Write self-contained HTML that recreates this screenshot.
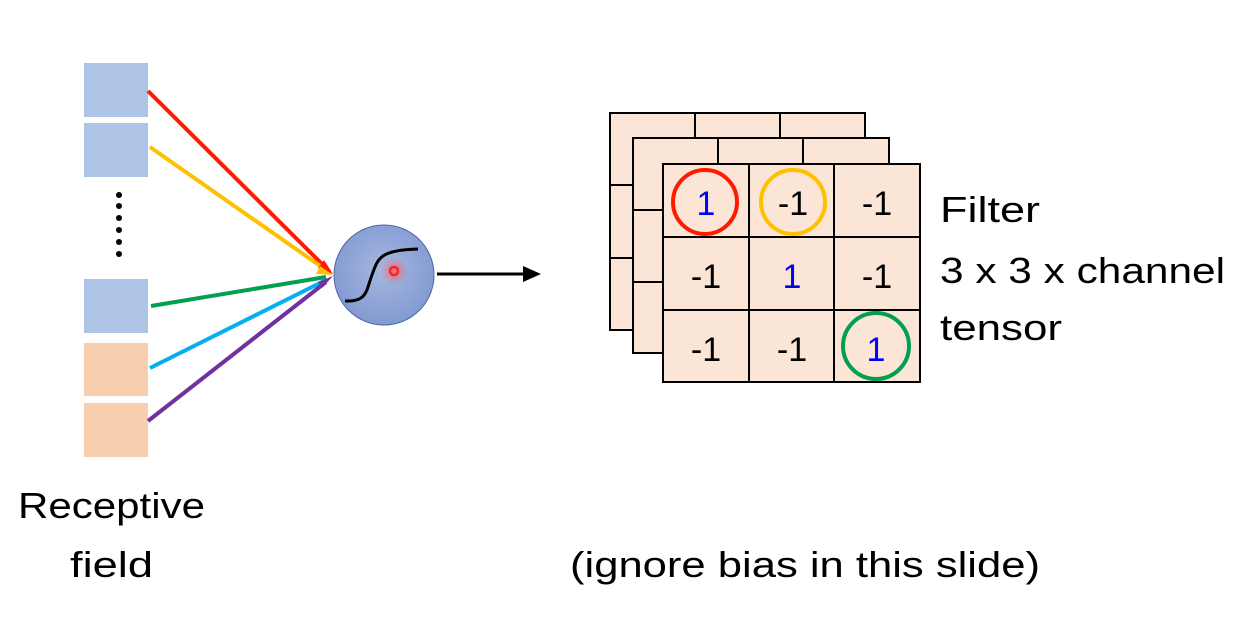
<!DOCTYPE html>
<html><head><meta charset="utf-8"><style>html,body{margin:0;padding:0;background:#fff;}svg{display:block}</style></head>
<body>
<svg width="1239" height="640" viewBox="0 0 1239 640" xmlns="http://www.w3.org/2000/svg" font-family="Liberation Sans, sans-serif">
<defs>
<radialGradient id="g" cx="0.5" cy="0.45" r="0.6"><stop offset="0" stop-color="#a6b8e0"/><stop offset="1" stop-color="#7f97d0"/></radialGradient>
<radialGradient id="glow"><stop offset="0" stop-color="#ff6060" stop-opacity="0.8"/><stop offset="1" stop-color="#ff6060" stop-opacity="0"/></radialGradient>
</defs>
<!-- boxes -->
<rect x="84" y="63" width="64" height="54" fill="#aec4e6"/>
<rect x="84" y="123" width="64" height="54" fill="#aec4e6"/>
<rect x="84" y="279" width="64" height="54" fill="#aec4e6"/>
<rect x="84" y="343" width="64" height="53" fill="#f8cfae"/>
<rect x="84" y="403" width="64" height="54" fill="#f8cfae"/>
<g fill="#000">
<circle cx="119" cy="195" r="3"/><circle cx="119" cy="206" r="3"/><circle cx="119" cy="218" r="3"/><circle cx="119" cy="230" r="3"/><circle cx="119" cy="242" r="3"/><circle cx="119" cy="254" r="3"/>
</g>
<!-- arrows -->
<g stroke-width="4" fill="none">
<line x1="148" y1="91" x2="326" y2="268" stroke="#ff1a00"/>
<line x1="150" y1="147" x2="326" y2="270" stroke="#ffc000"/>
<line x1="151" y1="306" x2="326" y2="277" stroke="#00a050"/>
<line x1="150" y1="368" x2="326" y2="280" stroke="#00b0f0"/>
<line x1="148" y1="421" x2="326" y2="282" stroke="#7030a0"/>
</g>
<polygon points="333,274 318,268 324,260" fill="#ff1a00"/>
<polygon points="333,275 316,274 320,266" fill="#ffc000"/>
<polygon points="333,276 318,282 322,288" fill="#7030a0"/>
<!-- neuron -->
<circle cx="384" cy="275" r="50" fill="url(#g)" stroke="#4a6aa8" stroke-width="1"/>
<circle cx="394" cy="271" r="14" fill="url(#glow)"/>
<circle cx="394" cy="271" r="4" fill="none" stroke="#ff2020" stroke-width="2.5"/>
<path d="M345,301 C368,302 366,290 372,275 C378,258 380,250 418,249" stroke="#000" stroke-width="3" fill="none"/>
<line x1="437" y1="274" x2="525" y2="274" stroke="#000" stroke-width="3"/>
<polygon points="541,274 523,266 523,282" fill="#000"/>
<!-- grids -->
<g stroke="#000" stroke-width="2" fill="#fbe5d6">
<rect x="610" y="113" width="255" height="217"/>
<line x1="695" y1="113" x2="695" y2="138"/><line x1="780" y1="113" x2="780" y2="138"/>
<line x1="610" y1="185" x2="633" y2="185"/><line x1="610" y1="258" x2="633" y2="258"/>
<rect x="633" y="138" width="256" height="215"/>
<line x1="718" y1="138" x2="718" y2="164"/><line x1="803" y1="138" x2="803" y2="164"/>
<line x1="633" y1="210" x2="663" y2="210"/><line x1="633" y1="282" x2="663" y2="282"/>
<rect x="663" y="164" width="257" height="218"/>
<line x1="749" y1="164" x2="749" y2="382"/><line x1="834" y1="164" x2="834" y2="382"/>
<line x1="663" y1="237" x2="920" y2="237"/><line x1="663" y1="310" x2="920" y2="310"/>
</g>
<circle cx="705" cy="202" r="32" fill="none" stroke="#ff1a00" stroke-width="4"/>
<circle cx="793" cy="202" r="32" fill="none" stroke="#ffc000" stroke-width="4"/>
<circle cx="876" cy="346" r="33" fill="none" stroke="#00a050" stroke-width="4"/>
<g font-size="34" text-anchor="middle">
<text x="706" y="215" fill="#0000ff">1</text>
<text x="793" y="215">-1</text>
<text x="877" y="215">-1</text>
<text x="706" y="288">-1</text>
<text x="792" y="288" fill="#0000ff">1</text>
<text x="877" y="288">-1</text>
<text x="706" y="361">-1</text>
<text x="792" y="361">-1</text>
<text x="876" y="361" fill="#0000ff">1</text>
</g>
<g font-size="36" fill="#000">
<text x="940" y="222" textLength="100" lengthAdjust="spacingAndGlyphs">Filter</text>
<text x="940" y="283" textLength="285" lengthAdjust="spacingAndGlyphs">3 x 3 x channel</text>
<text x="940" y="340" textLength="122" lengthAdjust="spacingAndGlyphs">tensor</text>
<text x="18" y="518" textLength="187" lengthAdjust="spacingAndGlyphs">Receptive</text>
<text x="70" y="577" textLength="83" lengthAdjust="spacingAndGlyphs">field</text>
<text x="570" y="577" textLength="470" lengthAdjust="spacingAndGlyphs">(ignore bias in this slide)</text>
</g>
</svg>
</body></html>
